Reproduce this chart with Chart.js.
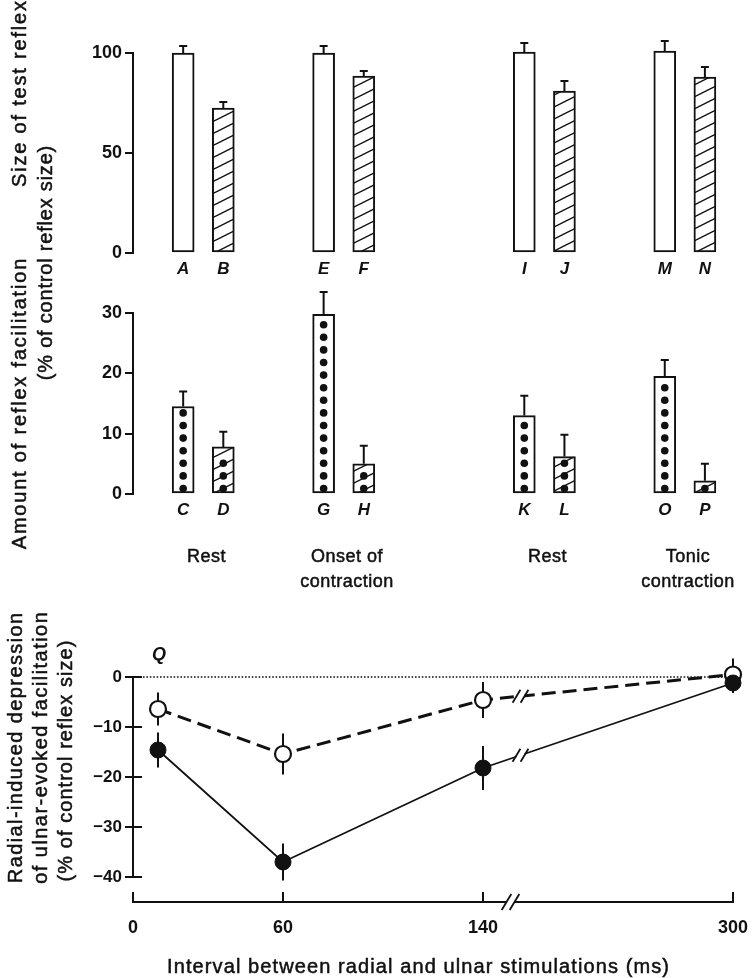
<!DOCTYPE html>
<html>
<head>
<meta charset="utf-8">
<script src="https://cdn.jsdelivr.net/npm/chart.js@4.4.1/dist/chart.umd.min.js"></script>
<style>
  body { margin: 0; background: #fff; }
  #wrap { position: relative; width: 755px; height: 978px; }
  #wrap canvas { position: absolute; left: 0; top: 0; }
</style>
</head>
<body>
<div id="wrap">
  <canvas id="size-chart" width="755" height="978"></canvas>
  <canvas id="facilitation-chart" width="755" height="978"></canvas>
  <canvas id="depression-chart" width="755" height="978"></canvas>
</div>
<script>
// Top panel: size of test reflex (% of control)
const sizeLetters = ['A', 'B', 'E', 'F', 'I', 'J', 'M', 'N'];
const sizeValues = [100, 72.5, 100, 88.5, 100.5, 81, 101, 88];
const sizeErrors = [3.5, 3, 3.5, 2.5, 4.5, 5, 5, 5];

// Middle panel: amount of reflex facilitation (% of control)
const facLetters = ['C', 'D', 'G', 'H', 'K', 'L', 'O', 'P'];
const facValues = [14.5, 7.8, 29.8, 5, 13, 6.2, 19.5, 2.2];
const facErrors = [2.5, 2.5, 3.7, 3, 3.3, 3.6, 2.7, 2.8];

// which bars of each pair are hatched (radial conditioning)
const hatched = [false, true, false, true, false, true, false, true];
const groupNames = [['Rest'], ['Onset of', 'contraction'], ['Rest'], ['Tonic', 'contraction']];

// Bottom panel: radial-induced depression vs interval
const intervals = [10, 60, 140, 300];
const openValues = [-6.4, -15.4, -4.6, 0.5];
const openErrors = [3.3, 4.1, 3.6, 3.2];
const filledValues = [-14.6, -37, -18.2, -1.2];
const filledErrors = [3.5, 3.7, 4.4, 2];
const intervalTicks = [0, 60, 140, 300];
const depressionTicks = [0, -10, -20, -30, -40];

const FONT = '"Liberation Sans", Arial, Helvetica, sans-serif';
const INK = '#111';
Chart.defaults.font.family = FONT;
Chart.defaults.color = INK;

// bars sit on a row of equal slots, with empty slots between pairs
const barSlots = [2, 4, 9, 11, 19, 21, 26, 28];
const slotCount = 30;

function spread(values, empty) {
    const out = new Array(slotCount).fill(empty);
    barSlots.forEach((s, i) => { out[s] = values[i]; });
    return out;
}

function makeHatch() {
    const c = document.createElement('canvas');
    c.width = 24;
    c.height = 12;
    const g = c.getContext('2d');
    g.fillStyle = '#fff';
    g.fillRect(0, 0, 24, 12);
    g.strokeStyle = INK;
    g.lineWidth = 1.4;
    [-12, 0, 12].forEach(dy => {
        g.beginPath();
        g.moveTo(0, 12 + dy);
        g.lineTo(24, dy);
        g.stroke();
    });
    return g.createPattern(c, 'repeat');
}
const hatch = makeHatch();

function drawText(ctx, text, x, y, { size = 20, weight = 'normal', style = 'normal', spacing = 0, rotate = 0, align = 'center', heavy = 0.5 } = {}) {
    ctx.save();
    ctx.translate(x, y);
    if (rotate) ctx.rotate(rotate);
    ctx.font = `${style} ${weight} ${size}px ${FONT}`;
    if ('letterSpacing' in ctx) ctx.letterSpacing = spacing + 'px';
    ctx.fillStyle = INK;
    ctx.strokeStyle = INK;
    ctx.textAlign = align;
    ctx.textBaseline = 'middle';
    const dx = align === 'center' ? spacing / 2 : 0;
    ctx.fillText(text, dx, 0);
    if (heavy) {
        // a thin outline gives the medium weight of the printed labels
        ctx.lineWidth = heavy;
        ctx.strokeText(text, dx, 0);
    }
    ctx.restore();
}

// error bars (upward, capped) and dot columns inside bars
const barExtras = {
    id: 'barExtras',
    afterDatasetsDraw(chart, args, opts) {
        const { ctx } = chart;
        const y = chart.scales.y;
        const meta = chart.getDatasetMeta(0);
        ctx.save();
        ctx.strokeStyle = INK;
        ctx.fillStyle = INK;
        ctx.lineWidth = 2;
        opts.values.forEach((v, i) => {
            const bar = meta.data[barSlots[i]];
            const top = y.getPixelForValue(v + opts.errors[i]);
            ctx.beginPath();
            ctx.moveTo(bar.x, bar.y);
            ctx.lineTo(bar.x, top);
            ctx.moveTo(bar.x - 4, top);
            ctx.lineTo(bar.x + 4, top);
            ctx.stroke();
            if (opts.dots) {
                for (let cy = bar.base - 4.5; cy >= bar.y + 4.5; cy -= 12.6) {
                    ctx.beginPath();
                    ctx.arc(bar.x, cy, 3.8, 0, Math.PI * 2);
                    ctx.fill();
                }
            }
        });
        ctx.restore();
    }
};

// titles at the left and the condition names under the pairs
const facilitationText = {
    id: 'facilitationText',
    afterDraw(chart) {
        const { ctx, chartArea } = chart;
        const meta = chart.getDatasetMeta(0);
        const up = -Math.PI / 2;
        drawText(ctx, 'Size of test reflex', 20, 94, { rotate: up, spacing: 1.8 });
        drawText(ctx, '(% of control reflex size)', 46, 263, { rotate: up, spacing: 0.8 });
        drawText(ctx, 'Amount of reflex facilitation', 20, 404, { rotate: up, spacing: 1.8 });
        groupNames.forEach((lines, g) => {
            const cx = (meta.data[barSlots[2 * g]].x + meta.data[barSlots[2 * g + 1]].x) / 2;
            lines.forEach((line, k) => {
                drawText(ctx, line, cx + 3, chartArea.bottom + 63 + k * 25, { size: 18, spacing: 0.5 });
            });
        });
    }
};

function makeBarChart(id, { letters, values, errors, max, step, top, bottom, dots, plugins }) {
    return new Chart(document.getElementById(id), {
        type: 'bar',
        data: {
            labels: spread(letters, ''),
            datasets: [{
                data: spread(values, null),
                backgroundColor: ctx => {
                    const i = barSlots.indexOf(ctx.dataIndex);
                    return i >= 0 && hatched[i] ? hatch : '#fff';
                },
                borderColor: INK,
                borderWidth: 2,
                borderSkipped: false,
                barThickness: 22,
                clip: false
            }]
        },
        options: {
            responsive: false,
            animation: false,
            layout: { padding: { top: top, right: 20, bottom: 978 - bottom - 30, left: 0 } },
            plugins: {
                legend: { display: false },
                tooltip: { enabled: false },
                barExtras: { values, errors, dots }
            },
            scales: {
                x: {
                    grid: { display: false, drawTicks: false },
                    border: { display: false },
                    ticks: {
                        autoSkip: false,
                        maxRotation: 0,
                        padding: 6,
                        color: INK,
                        font: { size: 17, weight: 'bold', style: 'italic' }
                    },
                    afterFit: s => { s.height = 30; }
                },
                y: {
                    min: 0,
                    max: max,
                    ticks: { stepSize: step, padding: 3, color: INK, font: { size: 18, weight: 'bold' } },
                    grid: { drawOnChartArea: false, drawTicks: true, tickLength: 8, color: INK, lineWidth: 2 },
                    border: { display: true, color: INK, width: 2 },
                    afterFit: s => { s.width = 133; }
                }
            }
        },
        plugins: [barExtras].concat(plugins || [])
    });
}

makeBarChart('size-chart', {
    letters: sizeLetters, values: sizeValues, errors: sizeErrors,
    max: 100, step: 50, top: 53, bottom: 253, dots: false
});

makeBarChart('facilitation-chart', {
    letters: facLetters, values: facValues, errors: facErrors,
    max: 30, step: 10, top: 313, bottom: 494, dots: true, plugins: [facilitationText]
});

// broken interval axis: 140 -> 300 ms squeezed
const toAxis = ms => ms <= 140 ? ms : 140 + (ms - 140) * 100 / 160;
const fromAxis = v => v <= 140 ? v : 140 + (v - 140) * 160 / 100;
const breakAt = 151;
const lineBreakAt = 155;

function slashes(ctx, x, y, h) {
    ctx.beginPath();
    [-4, 4].forEach(dx => {
        ctx.moveTo(x + dx - h * 0.3, y + h / 2);
        ctx.lineTo(x + dx + h * 0.3, y - h / 2);
    });
    ctx.stroke();
}

const depressionDecor = {
    id: 'depressionDecor',
    beforeDatasetsDraw(chart, args, opts) {
        const { ctx, chartArea } = chart;
        const { x, y } = chart.scales;
        const y0 = y.getPixelForValue(0);
        ctx.save();
        ctx.strokeStyle = INK;
        // dotted zero line
        ctx.lineWidth = 1.6;
        ctx.setLineDash([1.6, 1.8]);
        ctx.beginPath();
        ctx.moveTo(chartArea.left + 10, y0);
        ctx.lineTo(chartArea.right, y0);
        ctx.stroke();
        ctx.setLineDash([]);
        // y axis from 0 to -40, ticks crossing it
        ctx.lineWidth = 2;
        ctx.beginPath();
        ctx.moveTo(chartArea.left, y0);
        ctx.lineTo(chartArea.left, y.getPixelForValue(depressionTicks[depressionTicks.length - 1]));
        depressionTicks.forEach(v => {
            const py = y.getPixelForValue(v);
            ctx.moveTo(chartArea.left - 8, py);
            ctx.lineTo(chartArea.left + 9, py);
        });
        ctx.stroke();
        // vertical error bars
        opts.errors.forEach((errs, d) => {
            const meta = chart.getDatasetMeta(d);
            const vals = chart.data.datasets[d].data;
            meta.data.forEach((pt, i) => {
                ctx.beginPath();
                ctx.moveTo(pt.x, y.getPixelForValue(vals[i].y + errs[i]));
                ctx.lineTo(pt.x, y.getPixelForValue(vals[i].y - errs[i]));
                ctx.stroke();
            });
        });
        // break in the x axis
        const bx = x.getPixelForValue(breakAt);
        ctx.fillStyle = '#fff';
        ctx.fillRect(bx - 4, chartArea.bottom - 3, 8, 6);
        ctx.lineWidth = 1.8;
        slashes(ctx, bx, chartArea.bottom, 16);
        ctx.restore();
    },
    afterDatasetsDraw(chart) {
        const { ctx, chartArea } = chart;
        const { x } = chart.scales;
        ctx.save();
        ctx.strokeStyle = INK;
        ctx.lineWidth = 1.8;
        // break marks on both series between 140 and 300 ms
        [0, 1].forEach(d => {
            const pts = chart.getDatasetMeta(d).data;
            const a = pts[2], b = pts[3];
            const px = x.getPixelForValue(lineBreakAt);
            const py = a.y + (b.y - a.y) * (px - a.x) / (b.x - a.x);
            ctx.fillStyle = '#fff';
            ctx.fillRect(px - 4, py - 3, 8, 6);
            slashes(ctx, px, py, 13);
        });
        ctx.restore();
        drawText(ctx, 'Q', chartArea.left + 26, chartArea.top - 22, { size: 18, weight: 'bold', style: 'italic', heavy: 0 });
        const up = -Math.PI / 2;
        drawText(ctx, 'Radial-induced depression', 16, 748, { rotate: up, spacing: 1.4 });
        drawText(ctx, 'of ulnar-evoked facilitation', 41, 748, { rotate: up, spacing: 1.45 });
        drawText(ctx, '(% of control reflex size)', 66, 761, { rotate: up, spacing: 1.05 });
        drawText(ctx, 'Interval between radial and ulnar stimulations (ms)', 418, 967, { spacing: 1.1 });
    }
};

new Chart(document.getElementById('depression-chart'), {
    type: 'line',
    data: {
        datasets: [
            {
                label: 'filled',
                data: intervals.map((ms, i) => ({ x: toAxis(ms), y: filledValues[i] })),
                borderColor: INK,
                borderWidth: 1.8,
                pointRadius: 8,
                pointBackgroundColor: INK,
                pointBorderColor: INK,
                pointBorderWidth: 1,
                clip: false
            },
            {
                label: 'open',
                data: intervals.map((ms, i) => ({ x: toAxis(ms), y: openValues[i] })),
                borderColor: INK,
                borderWidth: 3,
                borderDash: [14, 7],
                pointRadius: 8,
                pointBackgroundColor: '#fff',
                pointBorderColor: INK,
                pointBorderWidth: 2.2,
                clip: false
            }
        ]
    },
    options: {
        responsive: false,
        animation: false,
        layout: { padding: { top: 677, right: 22, bottom: 26, left: 0 } },
        plugins: {
            legend: { display: false },
            tooltip: { enabled: false },
            depressionDecor: { errors: [filledErrors, openErrors] }
        },
        scales: {
            x: {
                type: 'linear',
                min: 0,
                max: toAxis(300),
                afterBuildTicks: s => { s.ticks = intervalTicks.map(ms => ({ value: toAxis(ms) })); },
                ticks: {
                    callback: v => String(Math.round(fromAxis(v))),
                    autoSkip: false,
                    maxRotation: 0,
                    padding: 25,
                    color: INK,
                    font: { size: 18, weight: 'bold' }
                },
                grid: { drawOnChartArea: false, drawTicks: true, tickLength: -10, color: INK, lineWidth: 2 },
                border: { display: true, color: INK, width: 2 },
                afterFit: s => {
                    s.height = 50;
                    // end labels may hang past the plot edges
                    s.paddingLeft = 0;
                    s.paddingRight = 0;
                }
            },
            y: {
                min: -45,
                max: 0,
                afterBuildTicks: s => { s.ticks = depressionTicks.map(v => ({ value: v })); },
                ticks: {
                    callback: v => v === 0 ? '0' : '\u2212' + Math.abs(v),
                    padding: 11,
                    color: INK,
                    font: { size: 17, weight: 'bold' }
                },
                grid: { display: false, drawTicks: false },
                border: { display: false },
                afterFit: s => { s.width = 133; }
            }
        }
    },
    plugins: [depressionDecor]
});
</script>
</body>
</html>
